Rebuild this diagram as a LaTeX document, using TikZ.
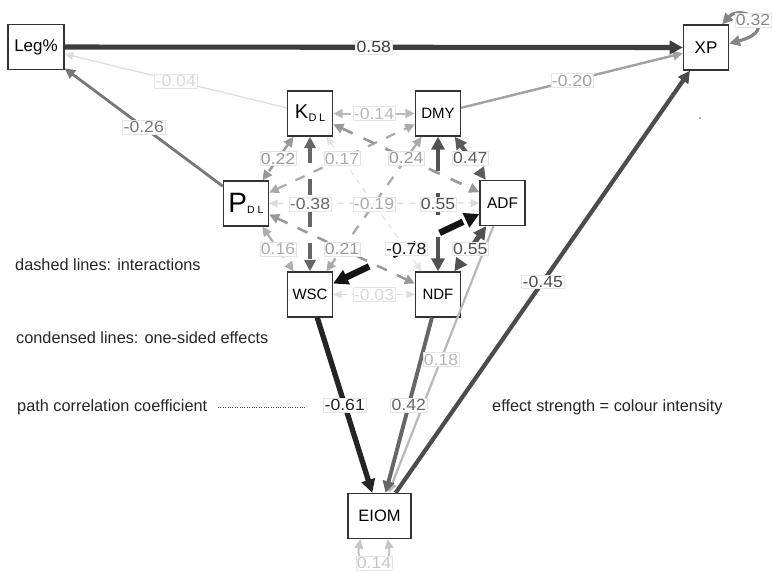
\documentclass[tikz,border=0pt]{standalone}
\usepackage{fontspec}
\setmainfont{Liberation Sans}
\newfontfamily\valfont[FakeStretch=1.1]{Liberation Sans}
\usetikzlibrary{arrows.meta,calc}

\tikzset{
  >={Triangle[length=7pt 1.2,width=6pt 1.4]},
  var/.style={draw=black!80, line width=1.3pt, fill=white, inner sep=0pt,
    minimum width=45pt, minimum height=45pt},
  effect/.style n args={2}{draw=#1, line width=#2pt, ->},
  inter/.style n args={3}{draw=#1, line width=#2pt, <->, dash pattern=on #3pt off #3pt},
  lbl/.style={fill=white, draw=black!10, line width=0.5pt, inner xsep=1pt, inner ysep=1.2pt,
    text=#1, font=\valfont\fontsize{16}{16}\selectfont},
  legend/.style={inner sep=0pt, anchor=base west, text=black!85,
    font=\fontsize{16.3}{16.3}\selectfont},
}

\begin{document}
\begin{tikzpicture}[x=1pt,y=-1pt]
\useasboundingbox (0,0) rectangle (772,571);
\fill[white] (0,0) rectangle (772,571);

% variables
\node[var, minimum width=56pt, font=\fontsize{17}{17}\selectfont] (leg) at (36,47) {Leg\%};
\node[var, font=\fontsize{17}{17}\selectfont] (xp) at (706,47.5) {XP};
\node[var] (k) at (310,113.5)
  {{\fontsize{20}{20}\selectfont K}\kern0.5pt\raisebox{-3pt}{\fontsize{11}{11}\selectfont D\kern2.5pt L}};
\node[var, font=\fontsize{15}{15}\selectfont] (dmy) at (438,113.5) {DMY};
\node[var] (p) at (246,203.5)
  {{\fontsize{28}{28}\selectfont P}\raisebox{-1.5pt}{\fontsize{10.5}{10.5}\selectfont D\kern3pt L}};
\node[var, font=\fontsize{15.5}{15.5}\selectfont] (adf) at (502.5,203) {ADF};
\node[var, font=\fontsize{15}{15}\selectfont] (wsc) at (310,294.5) {WSC};
\node[var, font=\fontsize{15}{15}\selectfont] (ndf) at (438,294.5) {NDF};
\node[var, minimum width=63pt, font=\fontsize{16.5}{16.5}\selectfont] (eiom) at (379.5,516) {EIOM};

% weak paths first
\draw[inter={black!11}{1.2}{5.5}] (k) -- (ndf);
\draw[inter={black!14}{1.3}{6}] (p) -- (adf);
\draw[inter={black!13}{1.2}{5.5}] (wsc) -- coordinate[midway] (m03) (ndf);
\draw[effect={black!13}{1.3}] (k) -- coordinate[midway] (m04) (leg);
\draw[inter={black!27}{2.0}{9}] (k) -- coordinate[midway] (m14) (dmy);
\draw[inter={black!32}{2.1}{9.5}] (p) -- coordinate[midway] (m16) (wsc);
\draw[inter={black!33}{2.2}{10}] (p) -- coordinate[midway] (m17) (dmy);
\draw[effect={black!28}{2.2}] (adf) -- coordinate[midway] (m18) (eiom);
\draw[inter={black!33}{2.3}{10}] (dmy) -- coordinate[midway] (m19) (wsc);
\draw[effect={black!37}{2.4}] (dmy) -- coordinate[midway] (m20) (xp);
\draw[inter={black!40}{2.5}{11}] (p) -- coordinate[midway] (m21) (ndf);
\draw[inter={black!40}{2.5}{11}] (k) -- coordinate[midway] (m22) (p);
\draw[inter={black!40}{2.7}{12}] (k) -- coordinate[midway] (m24) (adf);
\draw[effect={black!53}{2.8}] (p) -- coordinate[midway] (m26) (leg);
\draw[inter={black!60}{3.7}{16}] (k) -- coordinate[midway] (m38) (wsc);
\draw[effect={black!60}{3.9}] (ndf) -- coordinate[midway] (m42) (eiom);
\draw[effect={black!70}{4.2}] (eiom) -- coordinate[midway] (m45) (xp);
\draw[inter={black!64}{4.3}{19}] (dmy) -- coordinate[midway] (m47) (adf);
\draw[inter={black!68}{4.9}{22}] (dmy) -- coordinate[midway] (m55a) (ndf);
\draw[inter={black!68}{4.9}{22}] (adf) -- coordinate[midway] (m55b) (ndf);
\draw[effect={black!76}{5.1}] (leg) -- coordinate[midway] (m58) (xp);
\draw[effect={black!86}{5.3}] (wsc) -- coordinate[midway] (m61) (eiom);
\draw[inter={black!92}{6.5}{26}] (wsc) -- coordinate[midway] (m78) (adf);

% residual loops
\draw[draw=black!48, line width=3.2pt, <->]
  ($(xp.north east)+(-7,0)$) .. controls +(20,-22) and +(53,-14) ..
  coordinate[pos=0.5] (m32) ($(xp.east)+(0,-4)$);
\draw[draw=black!22, line width=2pt, <->]
  ($(eiom.south)+(-19,0)$) .. controls +(-6,32) and +(6,32) ..
  coordinate[pos=0.5] (m14e) ($(eiom.south)+(8,0)$);

% coefficients
\node[lbl=black!15] (t03) at (m03) {-0.03};
\node[lbl=black!15] (t04) at (m04) {-0.04};
\node[lbl=black!27] (t14) at (m14) {-0.14};
\node[lbl=black!32] (t16) at (m16) {0.16};
\node[lbl=black!33] (t17) at (m17) {0.17};
\node[lbl=black!28] (t18) at (m18) {0.18};
\node[lbl=black!33] (t19) at (m19) {-0.19};
\node[lbl=black!37] (t20) at (m20) {-0.20};
\node[lbl=black!40] (t21) at (m21) {0.21};
\node[lbl=black!40] (t22) at (m22) {0.22};
\node[lbl=black!40] (t24) at (m24) {0.24};
\node[lbl=black!53] (t26) at (m26) {-0.26};
\node[lbl=black!48] (t32) at (m32) {0.32};
\node[lbl=black!60] (t38) at (m38) {-0.38};
\node[lbl=black!60] (t42) at (m42) {0.42};
\node[lbl=black!70] (t45) at (m45) {-0.45};
\node[lbl=black!64] (t47) at (m47) {0.47};
\node[lbl=black!68] (t55a) at (m55a) {0.55};
\node[lbl=black!68] (t55b) at (m55b) {0.55};
\node[lbl=black!76] (t58) at (m58) {0.58};
\node[lbl=black!86] (t61) at (m61) {-0.61};
\node[lbl=black!92] (t78) at (m78) {-0.78};
\node[lbl=black!22] (t14e) at (m14e) {0.14};

% legend
\node[legend] (g1) at (15,270) {dashed lines: interactions};
\node[legend] (g2) at (16,343) {condensed lines: one-sided effects};
\node[legend] (g3) at (17,411.5) {path correlation coefficient};
\node[legend] (g4) at (492,411.5) {effect strength = colour intensity};
\coordinate (d1) at (218,407);
\coordinate (d2) at (306,407);
\draw[black!70, line width=0.8pt, dash pattern=on 0.8pt off 1.6pt] (d1) -- (d2);
\fill[black!70] (700,118) circle (0.9);
\end{tikzpicture}
\end{document}
